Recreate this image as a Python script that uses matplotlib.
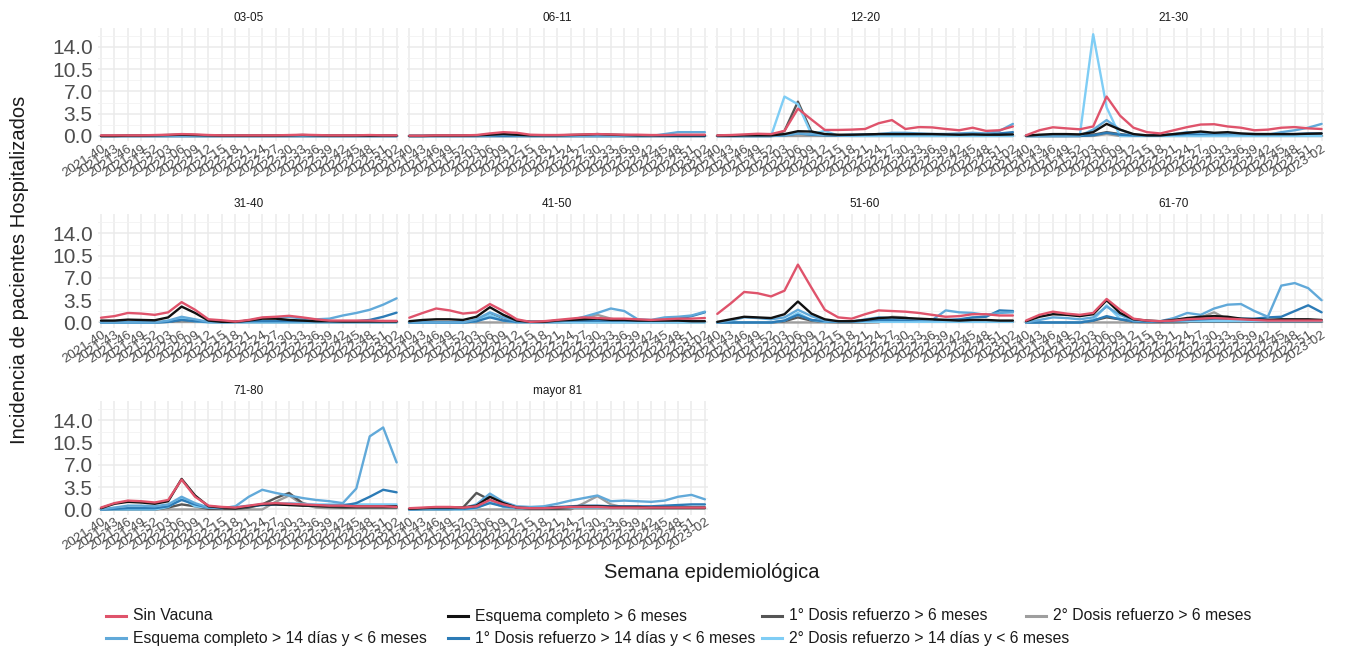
import numpy as np
import matplotlib
matplotlib.use("Agg")
import matplotlib.pyplot as plt
from matplotlib.lines import Line2D

plt.rcParams['font.family'] = ['Liberation Sans', 'DejaVu Sans']

# semanas epidemiologicas (cada 3 semanas, igual que las marcas del eje)
semanas = ["2021-40", "2021-43", "2021-46", "2021-49", "2021-52", "2022-03",
           "2022-06", "2022-09", "2022-12", "2022-15", "2022-18", "2022-21",
           "2022-24", "2022-27", "2022-30", "2022-33", "2022-36", "2022-39",
           "2022-42", "2022-45", "2022-48", "2022-51", "2023-02"]

grupos = ["03-05", "06-11", "12-20", "21-30", "31-40", "41-50",
          "51-60", "61-70", "71-80", "mayor 81"]

# una lista por grupo de edad
sin_vacuna = [
    [0.1, 0.1, 0.1, 0.1, 0.15, 0.2, 0.3, 0.25, 0.15, 0.1, 0.1, 0.1, 0.1, 0.1, 0.15, 0.2, 0.15, 0.1, 0.1, 0.1, 0.15, 0.1, 0.1],
    [0.05, 0.05, 0.1, 0.1, 0.1, 0.15, 0.4, 0.6, 0.5, 0.2, 0.15, 0.15, 0.2, 0.25, 0.3, 0.25, 0.2, 0.2, 0.15, 0.15, 0.2, 0.2, 0.2],
    [0.1, 0.15, 0.25, 0.35, 0.3, 0.8, 4.3, 2.6, 0.95, 0.95, 1.0, 1.1, 2.0, 2.5, 1.1, 1.4, 1.35, 1.1, 0.9, 1.3, 0.8, 0.9, 1.5],
    [0.1, 0.9, 1.37, 1.2, 1.05, 1.5, 6.2, 3.2, 1.3, 0.6, 0.4, 0.9, 1.4, 1.8, 1.85, 1.5, 1.3, 0.9, 1.0, 1.3, 1.4, 1.2, 1.1],
    [0.75, 1.0, 1.5, 1.4, 1.2, 1.6, 3.2, 2.0, 0.5, 0.35, 0.15, 0.4, 0.8, 0.9, 1.05, 0.8, 0.5, 0.3, 0.3, 0.3, 0.3, 0.25, 0.25],
    [0.75, 1.5, 2.2, 1.9, 1.4, 1.6, 2.9, 1.8, 0.5, 0.1, 0.2, 0.4, 0.6, 0.8, 0.7, 0.6, 0.6, 0.5, 0.4, 0.5, 0.6, 0.6, 0.7],
    [1.35, 3.0, 4.8, 4.6, 4.1, 5.0, 9.1, 5.5, 2.0, 0.8, 0.6, 1.3, 1.9, 1.8, 1.7, 1.5, 1.2, 0.9, 1.0, 1.3, 1.3, 1.1, 1.1],
    [0.3, 1.2, 1.7, 1.4, 1.2, 1.5, 3.7, 2.0, 0.6, 0.3, 0.2, 0.3, 0.5, 0.6, 0.7, 0.6, 0.5, 0.4, 0.3, 0.3, 0.3, 0.3, 0.3],
    [0.3, 1.0, 1.4, 1.3, 1.1, 1.5, 4.7, 2.0, 0.6, 0.4, 0.3, 0.6, 0.9, 1.0, 0.9, 0.8, 0.7, 0.6, 0.6, 0.5, 0.5, 0.5, 0.4],
    [0.2, 0.3, 0.4, 0.4, 0.3, 0.5, 1.5, 0.8, 0.3, 0.2, 0.2, 0.3, 0.4, 0.4, 0.4, 0.3, 0.3, 0.3, 0.3, 0.3, 0.3, 0.3, 0.3],
]

esq_6m = [
    [0, 0, 0.05, 0.05, 0.1, 0.15, 0.2, 0.15, 0.1, 0.05, 0.05, 0.05, 0.05, 0.05, 0.1, 0.15, 0.1, 0.05, 0.05, 0.05, 0.05, 0.05, 0.05],
    [0, 0, 0.05, 0.05, 0.05, 0.1, 0.2, 0.3, 0.2, 0.1, 0.1, 0.1, 0.15, 0.2, 0.3, 0.2, 0.15, 0.1, 0.1, 0.1, 0.1, 0.1, 0.1],
    [0.05, 0.05, 0.1, 0.1, 0.1, 0.3, 0.75, 0.7, 0.3, 0.2, 0.2, 0.25, 0.3, 0.3, 0.3, 0.3, 0.3, 0.25, 0.2, 0.25, 0.2, 0.2, 0.25],
    [0.05, 0.2, 0.3, 0.3, 0.25, 0.6, 1.9, 1.0, 0.3, 0.1, 0.1, 0.3, 0.5, 0.7, 0.5, 0.6, 0.4, 0.3, 0.3, 0.3, 0.3, 0.35, 0.4],
    [0.3, 0.3, 0.45, 0.4, 0.35, 0.8, 2.5, 1.5, 0.3, 0.1, 0.1, 0.3, 0.6, 0.6, 0.4, 0.3, 0.2, 0.2, 0.15, 0.15, 0.15, 0.15, 0.15],
    [0.2, 0.4, 0.5, 0.5, 0.4, 0.9, 2.4, 1.2, 0.3, 0.1, 0.1, 0.3, 0.4, 0.5, 0.6, 0.4, 0.4, 0.3, 0.3, 0.3, 0.3, 0.2, 0.2],
    [0.1, 0.5, 0.9, 0.8, 0.7, 1.3, 3.3, 1.4, 0.5, 0.2, 0.2, 0.4, 0.7, 0.8, 0.7, 0.6, 0.5, 0.4, 0.3, 0.4, 0.4, 0.3, 0.3],
    [0.2, 0.9, 1.3, 1.2, 1.0, 1.3, 3.5, 1.5, 0.5, 0.3, 0.2, 0.4, 0.7, 0.9, 1.0, 0.9, 0.6, 0.5, 0.4, 0.5, 0.5, 0.5, 0.4],
    [0.2, 0.9, 1.2, 1.1, 0.9, 1.3, 4.8, 2.2, 0.5, 0.3, 0.2, 0.5, 0.8, 0.8, 0.7, 0.6, 0.6, 0.5, 0.5, 0.5, 0.5, 0.5, 0.5],
    [0.1, 0.2, 0.3, 0.3, 0.3, 0.6, 2.0, 1.0, 0.3, 0.2, 0.2, 0.3, 0.4, 0.5, 0.5, 0.4, 0.4, 0.4, 0.3, 0.3, 0.3, 0.3, 0.3],
]

ref1_6m = [
    [0] * 23,
    [0] * 23,
    [0, 0, 0, 0, 0, 0.8, 5.4, 0.7, 0.1, 0.05, 0.05, 0.05, 0.05, 0.05, 0.05, 0.05, 0.05, 0.05, 0.05, 0.05, 0.05, 0.05, 0.05],
    [0, 0, 0, 0, 0, 0.2, 0.6, 0.3, 0.05, 0.05, 0.05, 0.05, 0.05, 0.05, 0.05, 0.05, 0.05, 0.05, 0.05, 0.05, 0.05, 0.05, 0.05],
    [0, 0, 0, 0, 0, 0.1, 0.4, 0.3, 0.05, 0.05, 0.05, 0.05, 0.05, 0.05, 0.05, 0.05, 0.05, 0.05, 0.05, 0.05, 0.05, 0.05, 0.05],
    [0, 0, 0, 0, 0, 0.2, 1.3, 0.4, 0.05, 0.05, 0.05, 0.05, 0.05, 0.05, 0.05, 0.05, 0.05, 0.05, 0.05, 0.05, 0.05, 0.05, 0.05],
    [0, 0, 0, 0, 0, 0.2, 0.8, 0.3, 0.1, 0.05, 0.05, 0.05, 0.1, 0.1, 0.1, 0.1, 0.1, 0.1, 0.1, 0.1, 0.1, 0.1, 0.1],
    [0, 0, 0, 0, 0, 0.3, 0.8, 0.5, 0.1, 0.05, 0.05, 0.05, 0.1, 0.1, 0.1, 0.1, 0.1, 0.1, 0.1, 0.1, 0.1, 0.1, 0.1],
    [0, 0, 0, 0, 0, 0.3, 0.8, 0.5, 0.1, 0.1, 0.1, 0.3, 0.8, 1.8, 2.6, 1.0, 0.5, 0.4, 0.3, 0.3, 0.3, 0.3, 0.3],
    [0, 0, 0, 0, 0.3, 2.6, 1.5, 0.5, 0.2, 0.1, 0.1, 0.1, 0.2, 0.2, 0.2, 0.2, 0.2, 0.2, 0.2, 0.2, 0.2, 0.2, 0.2],
]

ref2_6m = [
    [0] * 23,
    [0] * 23,
    [0] * 23,
    [0, 0, 0, 0, 0, 0, 0.3, 0, 0, 0, 0, 0, 0, 0, 0, 0, 0, 0, 0, 0, 0, 0, 0],
    [0] * 23,
    [0, 0, 0, 0, 0, 0, 0, 0, 0, 0, 0, 0, 0, 0.6, 1.2, 0.6, 0.2, 0.1, 0.1, 0.1, 0.1, 0.1, 0.1],
    [0, 0, 0, 0, 0, 0, 0, 0, 0, 0, 0, 0, 0, 0.9, 0.8, 0.3, 0.1, 0.1, 0.1, 0.1, 0.1, 0.1, 0.1],
    [0, 0, 0, 0, 0, 0, 0, 0, 0, 0, 0, 0, 0, 0.8, 1.6, 0.5, 0.2, 0.1, 0.1, 0.1, 0.1, 0.1, 0.1],
    [0, 0, 0, 0, 0, 0, 0, 0, 0, 0, 0, 0, 0, 1.2, 2.2, 0.8, 0.3, 0.2, 0.2, 0.2, 0.2, 0.2, 0.2],
    [0, 0, 0, 0, 0, 0, 0, 0, 0, 0, 0, 0, 0, 1.0, 2.1, 0.8, 0.3, 0.2, 0.2, 0.2, 0.2, 0.2, 0.2],
]

esq_14d = [
    [0] * 23,
    [0, 0, 0, 0, 0, 0, 0.1, 0.2, 0.1, 0, 0, 0, 0, 0, 0, 0, 0, 0, 0, 0.3, 0.6, 0.6, 0.6],
    [0, 0, 0, 0, 0, 0.1, 0.4, 0.3, 0.1, 0.1, 0.1, 0.2, 0.3, 0.5, 0.5, 0.4, 0.3, 0.3, 0.4, 0.5, 0.4, 0.8, 1.9],
    [0, 0, 0, 0, 0.05, 1.0, 2.5, 1.0, 0.2, 0.1, 0.1, 0.3, 0.6, 0.5, 0.4, 0.4, 0.3, 0.3, 0.2, 0.6, 0.9, 1.3, 1.9],
    [0, 0, 0, 0, 0, 0.3, 0.9, 0.5, 0.1, 0.05, 0.1, 0.3, 0.7, 0.7, 0.9, 0.6, 0.5, 0.6, 1.1, 1.5, 2.0, 2.8, 3.8],
    [0, 0, 0, 0, 0, 0.5, 1.6, 0.8, 0.2, 0.1, 0.1, 0.2, 0.4, 0.9, 1.5, 2.2, 1.8, 0.5, 0.4, 0.8, 0.9, 1.1, 1.7],
    [0, 0.3, 0.8, 0.7, 0.5, 0.8, 2.0, 1.0, 0.3, 0.1, 0.1, 0.5, 0.8, 0.7, 0.6, 0.5, 0.4, 1.9, 1.6, 1.5, 1.2, 1.5, 1.6],
    [0, 0.4, 0.8, 0.7, 0.5, 0.8, 2.5, 1.2, 0.3, 0.2, 0.2, 0.7, 1.5, 1.2, 2.2, 2.8, 2.9, 1.8, 0.9, 5.8, 6.2, 5.4, 3.5],
    [0, 0.3, 0.6, 0.6, 0.5, 0.8, 2.0, 1.0, 0.3, 0.2, 0.5, 2.0, 3.1, 2.6, 2.2, 1.8, 1.5, 1.3, 1.0, 3.3, 11.5, 12.9, 7.4],
    [0, 0.1, 0.2, 0.2, 0.2, 0.8, 2.5, 1.2, 0.5, 0.4, 0.5, 0.9, 1.4, 1.8, 2.2, 1.3, 1.4, 1.3, 1.2, 1.4, 2.0, 2.3, 1.6],
]

ref1_14d = [
    [0] * 23,
    [0] * 23,
    [0, 0, 0, 0, 0, 0.1, 0.4, 0.2, 0.1, 0.1, 0.2, 0.2, 0.3, 0.3, 0.3, 0.3, 0.3, 0.3, 0.3, 0.3, 0.3, 0.4, 0.6],
    [0, 0, 0, 0, 0, 0.1, 0.5, 0.2, 0.1, 0.1, 0.1, 0.2, 0.3, 0.3, 0.3, 0.3, 0.3, 0.3, 0.3, 0.3, 0.3, 0.4, 0.4],
    [0, 0, 0, 0, 0, 0.1, 0.4, 0.2, 0.1, 0.1, 0.1, 0.2, 0.2, 0.2, 0.2, 0.2, 0.2, 0.2, 0.2, 0.2, 0.4, 0.9, 1.55],
    [0, 0, 0, 0, 0, 0.2, 0.8, 0.3, 0.1, 0.1, 0.1, 0.2, 0.3, 0.3, 0.3, 0.3, 0.3, 0.3, 0.3, 0.4, 0.6, 1.0, 1.6],
    [0, 0, 0, 0, 0, 0.3, 1.2, 0.4, 0.2, 0.1, 0.1, 0.3, 0.4, 0.4, 0.4, 0.4, 0.4, 0.4, 0.5, 0.8, 0.9, 1.9, 1.8],
    [0, 0, 0, 0, 0, 0.3, 1.0, 0.5, 0.2, 0.1, 0.1, 0.3, 0.4, 0.5, 0.6, 0.6, 0.6, 0.6, 0.8, 0.9, 1.8, 2.7, 1.6],
    [0, 0.1, 0.2, 0.2, 0.2, 0.5, 1.5, 0.8, 0.3, 0.3, 0.3, 0.5, 0.7, 0.8, 0.8, 0.7, 0.6, 0.6, 0.6, 1.0, 2.0, 3.1, 2.7],
    [0, 0.1, 0.1, 0.1, 0.1, 0.3, 1.0, 0.5, 0.3, 0.3, 0.3, 0.4, 0.5, 0.6, 0.6, 0.5, 0.5, 0.5, 0.5, 0.6, 0.7, 0.8, 0.8],
]

ref2_14d = [
    [0] * 23,
    [0] * 23,
    [0, 0, 0, 0, 0, 6.2, 5.0, 0.3, 0.8, 0.05, 0, 0, 0, 0, 0, 0, 0, 0, 0, 0, 0, 0, 0],
    [0, 0, 0, 0, 0, 16.0, 4.5, 0, 0, 0, 0, 0, 0, 0, 0, 0, 0, 0, 0, 0, 0, 0, 0],
    [0, 0, 0, 0, 0, 0.1, 0.6, 0.2, 0, 0, 0, 0, 0, 0, 0, 0, 0, 0, 0, 0, 0, 0, 0],
    [0, 0, 0, 0, 0, 0.2, 1.2, 0.3, 0, 0, 0, 0, 0, 0, 0, 0, 0, 0, 0, 0, 0, 0, 0],
    [0, 0, 0, 0, 0, 0.3, 1.5, 0.4, 0.1, 0.1, 0.1, 0.1, 0.1, 0.1, 0.1, 0.1, 0.1, 0.1, 0.1, 0.1, 0.1, 0.1, 0.1],
    [0, 0, 0, 0, 0, 0.4, 2.7, 0.6, 0.2, 0.2, 0.2, 0.2, 0.2, 0.2, 0.2, 0.2, 0.2, 0.2, 0.2, 0.2, 0.2, 0.2, 0.2],
    [0, 0, 0, 0, 0, 0.4, 1.8, 0.5, 0.3, 0.3, 0.4, 0.6, 0.8, 0.9, 1.0, 0.9, 0.8, 0.8, 0.8, 0.8, 0.8, 0.8, 0.8],
    [0, 0, 0, 0, 0, 0.2, 1.2, 0.4, 0.2, 0.2, 0.2, 0.3, 0.3, 0.3, 0.3, 0.3, 0.3, 0.3, 0.3, 0.3, 0.3, 0.3, 0.3],
]

nombres = {
    "sv": "Sin Vacuna",
    "e6": "Esquema completo > 6 meses",
    "r16": "1° Dosis refuerzo > 6 meses",
    "r26": "2° Dosis refuerzo > 6 meses",
    "e14": "Esquema completo > 14 días y < 6 meses",
    "r114": "1° Dosis refuerzo > 14 días y < 6 meses",
    "r214": "2° Dosis refuerzo > 14 días y < 6 meses",
}
colores = {
    "sv": "#DF536B", "e6": "#111111", "r16": "#555555", "r26": "#9E9E9E",
    "e14": "#61A9D9", "r114": "#2C7BB6", "r214": "#7FCDF5",
}
datos = {"sv": sin_vacuna, "e6": esq_6m, "r16": ref1_6m, "r26": ref2_6m,
         "e14": esq_14d, "r114": ref1_14d, "r214": ref2_14d}
# orden de dibujo (el ultimo queda encima)
orden = ["r26", "r16", "r214", "r114", "e14", "e6", "sv"]

W, H = 1346, 647
fig = plt.figure(figsize=(W / 100, H / 100), dpi=100)

col_izq = [98.3, 406.6, 714.6, 1023.3]
fila_sup = [27.9, 214.4, 401.4]
ancho, alto = 301.0, 113.3

x = np.arange(len(semanas))
for k, grupo in enumerate(grupos):
    fila, col = divmod(k, 4)
    ax = fig.add_axes([col_izq[col] / W, 1 - (fila_sup[fila] + alto) / H, ancho / W, alto / H])
    for s in orden:
        ax.plot(x, datos[s][k], color=colores[s], lw=1.7, solid_capstyle='round')
    ax.set_xlim(-0.2, len(semanas) - 0.8)
    ax.set_ylim(-0.82, 17.0)
    ax.set_yticks([0, 3.5, 7, 10.5, 14])
    ax.set_yticks([1.75, 5.25, 8.75, 12.25, 15.75], minor=True)
    ax.set_xticks(x)
    ax.set_xticklabels(semanas, rotation=33, ha='right', va='top', rotation_mode='anchor',
                       fontsize=9.5, color='#4D4D4D')
    if col == 0:
        ax.set_yticklabels(["0.0", "3.5", "7.0", "10.5", "14.0"], fontsize=15, color='#4D4D4D')
    else:
        ax.set_yticklabels([])
    ax.tick_params(axis='both', which='both', length=0)
    ax.tick_params(axis='y', pad=4)
    ax.tick_params(axis='x', pad=1)
    ax.grid(True, which='major', color='#EBEBEB', lw=1.1)
    ax.grid(True, which='minor', axis='y', color='#F2F2F2', lw=0.6)
    ax.set_axisbelow(True)
    for sp in ax.spines.values():
        sp.set_visible(False)
    ax.set_title(grupo, fontsize=8.5, color='#1A1A1A', pad=5)

fig.text(20 / W, 1 - 270 / H, "Incidencia de pacientes Hospitalizados", rotation=90,
         ha='center', va='center', fontsize=14.5, color='#1A1A1A')
fig.text(712 / W, 1 - 572 / H, "Semana epidemiológica", ha='center', va='center',
         fontsize=14.5, color='#1A1A1A')

# leyenda inferior
leyenda = [("sv", 104, 616), ("e6", 446, 616), ("r16", 760, 616), ("r26", 1024, 616),
           ("e14", 104, 638), ("r114", 446, 638), ("r214", 760, 638)]
for s, lx, ly in leyenda:
    fig.add_artist(Line2D([(lx + 2) / W, (lx + 22) / W], [1 - ly / H, 1 - ly / H],
                          transform=fig.transFigure, color=colores[s], lw=2.2))
    fig.text((lx + 29) / W, 1 - ly / H, nombres[s], ha='left', va='center',
             fontsize=11.3, color='#1A1A1A')

fig.savefig("out.png", dpi=100)
